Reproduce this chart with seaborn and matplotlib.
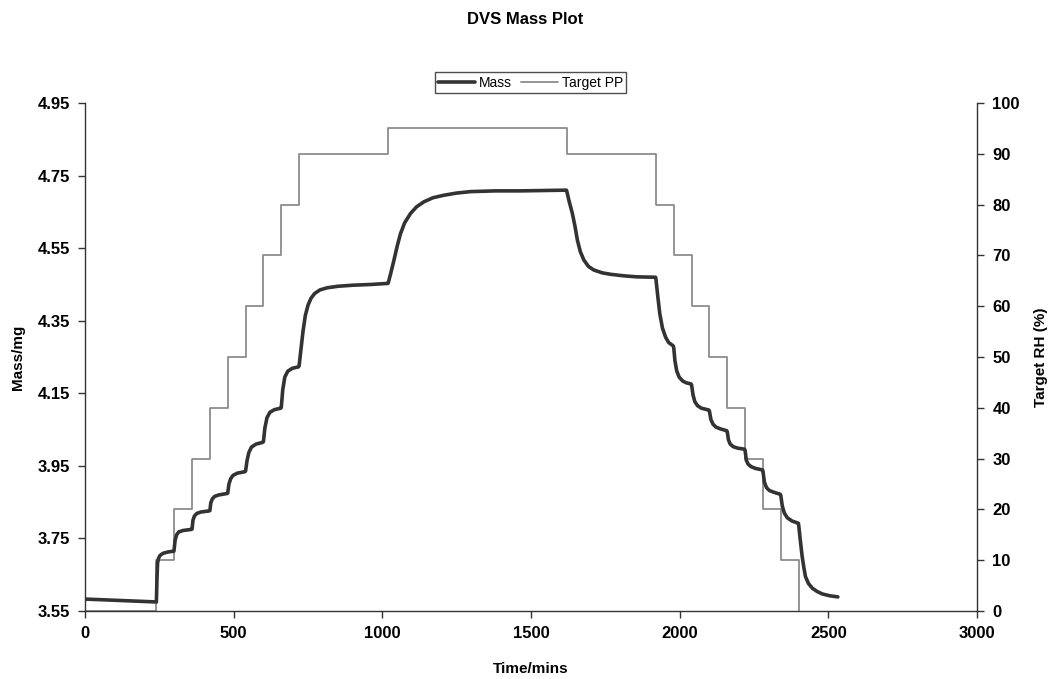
import matplotlib
matplotlib.use("Agg")
import matplotlib.pyplot as plt
import seaborn as sns
import pandas as pd

# Sample mass over time (minutes, mg)
mass_time = [
    0, 120, 240,
    242, 244, 247, 252, 262, 280, 299,
    303, 308, 315, 330, 358,
    360, 363, 368, 376, 390, 418,
    420, 423, 428, 436, 450, 478,
    480, 484, 490, 498, 512, 538,
    540, 545, 551, 560, 575, 598,
    600, 605, 612, 622, 637, 658,
    660, 665, 672, 682, 697, 718,
    720, 726, 733, 741, 750, 760, 772, 790, 815, 850, 900, 960, 1019,
    1020, 1028, 1039, 1050, 1061, 1075, 1095, 1115, 1140, 1170, 1207,
    1250, 1297, 1380, 1465, 1540, 1619,
    1620, 1628, 1639, 1648, 1656, 1666, 1678, 1693, 1711, 1740, 1768,
    1810, 1857, 1919,
    1920, 1926, 1933, 1942, 1953, 1963, 1978,
    1980, 1984, 1990, 1998, 2010, 2022, 2038,
    2040, 2045, 2051, 2060, 2073, 2098,
    2100, 2105, 2112, 2122, 2137, 2158,
    2160, 2164, 2170, 2180, 2195, 2218,
    2220, 2224, 2230, 2240, 2255, 2278,
    2280, 2285, 2292, 2302, 2318, 2338,
    2340, 2345, 2352, 2362, 2378, 2399,
    2400, 2405, 2412, 2418, 2423, 2433, 2446, 2462, 2480, 2505, 2532,
]
mass_mg = [
    3.583, 3.579, 3.575,
    3.640, 3.682, 3.695, 3.703, 3.709, 3.713, 3.715,
    3.745, 3.760, 3.768, 3.772, 3.775,
    3.776, 3.800, 3.812, 3.819, 3.823, 3.826,
    3.827, 3.848, 3.859, 3.866, 3.870, 3.874,
    3.875, 3.900, 3.915, 3.924, 3.930, 3.934,
    3.936, 3.965, 3.987, 4.002, 4.010, 4.015,
    4.017, 4.055, 4.083, 4.098, 4.105, 4.109,
    4.111, 4.160, 4.195, 4.211, 4.219, 4.223,
    4.226, 4.270, 4.320, 4.365, 4.393, 4.412, 4.425, 4.435, 4.441, 4.445,
    4.448, 4.450, 4.453,
    4.455, 4.480, 4.517, 4.556, 4.590, 4.620, 4.646, 4.664, 4.678, 4.689,
    4.696, 4.702, 4.706, 4.708, 4.708, 4.709, 4.710,
    4.708, 4.680, 4.646, 4.610, 4.572, 4.540, 4.517, 4.500, 4.490, 4.482,
    4.478, 4.474, 4.471, 4.470,
    4.466, 4.420, 4.370, 4.330, 4.304, 4.290, 4.281,
    4.276, 4.240, 4.212, 4.195, 4.184, 4.179, 4.176,
    4.173, 4.145, 4.127, 4.116, 4.109, 4.104,
    4.101, 4.078, 4.065, 4.057, 4.052, 4.047,
    4.044, 4.022, 4.010, 4.003, 3.999, 3.996,
    3.993, 3.966, 3.955, 3.948, 3.943, 3.939,
    3.936, 3.905, 3.890, 3.882, 3.877, 3.872,
    3.869, 3.840, 3.820, 3.807, 3.798, 3.792,
    3.789, 3.750, 3.700, 3.668, 3.645, 3.626, 3.613, 3.604, 3.597, 3.592,
    3.589,
]

# Target relative humidity programme (step start times, %)
rh_time = [0, 240, 300, 360, 420, 480, 540, 600, 660, 720, 1020, 1620,
           1920, 1980, 2040, 2100, 2160, 2220, 2280, 2340, 2400]
rh_target = [0, 10, 20, 30, 40, 50, 60, 70, 80, 90, 95, 90,
             80, 70, 60, 50, 40, 30, 20, 10, 0]

x_ticks = [0, 500, 1000, 1500, 2000, 2500, 3000]
mass_ticks = [3.55, 3.75, 3.95, 4.15, 4.35, 4.55, 4.75, 4.95]
rh_ticks = [0, 10, 20, 30, 40, 50, 60, 70, 80, 90, 100]

sns.set_theme(style="ticks")
plt.rcParams["font.family"] = ["Liberation Sans", "DejaVu Sans"]
plt.rcParams["text.color"] = "black"
plt.rcParams["axes.labelcolor"] = "black"
plt.rcParams["xtick.color"] = "black"
plt.rcParams["ytick.color"] = "black"

mass_df = pd.DataFrame({"t": mass_time, "m": mass_mg})
rh_df = pd.DataFrame({"t": rh_time, "rh": rh_target})

fig = plt.figure(figsize=(10.51, 6.79), dpi=100)
ax = fig.add_axes([0.0809, 0.1001, 0.8487, 0.7481])
ax2 = ax.twinx()

sns.lineplot(data=rh_df, x="t", y="rh", ax=ax2, color="#8c8c8c", linewidth=1.3,
             drawstyle="steps-post", sort=False, estimator=None, label="Target PP",
             legend=False)
sns.lineplot(data=mass_df, x="t", y="m", ax=ax, color="#333333", linewidth=2.6,
             sort=False, estimator=None, label="Mass", legend=False)

ax.set_zorder(ax2.get_zorder() + 1)
ax.patch.set_visible(False)

ax.set_xlim(0, 3000)
ax.set_ylim(3.55, 4.95)
ax2.set_ylim(0, 100)
ax.set_xticks(x_ticks)
ax.set_yticks(mass_ticks)
ax.set_yticklabels([f"{v:.2f}" for v in mass_ticks])
ax2.set_yticks(rh_ticks)

for a in (ax, ax2):
    a.spines["top"].set_visible(False)
    for s in a.spines.values():
        s.set_color("#333333")
        s.set_linewidth(1.0)
    a.tick_params(direction="out", length=5, width=1, color="#333333",
                  labelcolor="black", labelsize=12, pad=6)
    for lab in a.get_xticklabels() + a.get_yticklabels():
        lab.set_fontweight("bold")
ax2.spines["left"].set_visible(False)
ax2.spines["bottom"].set_visible(False)
ax.spines["right"].set_visible(False)

ax.set_xlabel("Time/mins", fontsize=11, fontweight="bold", labelpad=15)
ax.set_ylabel("Mass/mg", fontsize=11, fontweight="bold", labelpad=9)
ax2.set_ylabel("Target RH (%)", fontsize=11, fontweight="bold", labelpad=10)

fig.suptitle("DVS Mass Plot", x=0.5, y=0.982, fontsize=12, fontweight="bold")

h1, l1 = ax.get_legend_handles_labels()
h2, l2 = ax2.get_legend_handles_labels()
leg = fig.legend(h1 + h2, l1 + l2, loc="center", bbox_to_anchor=(0.505, 0.878),
                 ncol=2, frameon=True, fancybox=False, fontsize=10,
                 handlelength=2.6, columnspacing=0.7, handletextpad=0.3,
                 borderpad=0.25, borderaxespad=0)
leg.get_frame().set_edgecolor("#222222")
leg.get_frame().set_linewidth(1.0)

fig.savefig("out.png", dpi=100, facecolor="white")
